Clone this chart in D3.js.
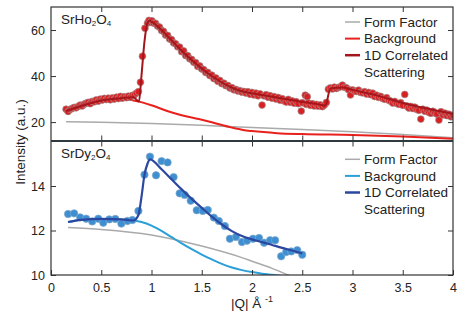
<!DOCTYPE html>
<html><head><meta charset="utf-8">
<script src="https://cdn.jsdelivr.net/npm/d3@7"></script>
<style>
body{margin:0;background:#fff;}
svg{display:block;font-family:"Liberation Sans",Arial,Helvetica,sans-serif;}
</style></head><body>
<svg id="c" width="463" height="317"></svg>
<script>
// ---------- DATA ----------
const xTicks = [0,0.5,1,1.5,2,2.5,3,3.5,4];
const hoTicks = [20,40,60];
const dyTicks = [10,12,14];
const legendLabels = ["Form Factor","Background","1D Correlated","Scattering"];

// SrHo2O4 measured points [Q, I]
const hoData = [
[0.15,25.6],[0.17,24.6],[0.19,25.5],[0.21,25.9],[0.23,26.4],[0.25,26.2],[0.27,26.8],[0.29,27.4],[0.31,27.0],[0.33,27.8],
[0.35,28.2],[0.37,28.6],[0.39,28.0],[0.41,29.0],[0.43,28.8],[0.45,29.6],[0.47,29.1],[0.49,30.0],[0.51,29.6],[0.53,30.3],
[0.55,29.8],[0.57,30.4],[0.59,29.7],[0.61,30.5],[0.63,30.0],[0.65,30.8],[0.67,30.2],[0.69,31.2],[0.71,30.4],[0.73,31.0],
[0.75,30.6],[0.77,31.3],[0.79,30.8],[0.81,31.6],[0.83,31.8],[0.85,32.6],[0.87,33.2],[0.89,37.3],[0.91,48.6],[0.935,60.8],
[0.96,63.0],[0.975,64.2],[0.99,63.4],[1.005,64.0],[1.02,63.0],[1.04,62.9],[1.06,61.7],[1.08,61.3],[1.10,59.8],[1.12,59.4],
[1.14,57.8],[1.16,57.7],[1.18,56.1],[1.20,55.8],[1.22,54.4],[1.24,54.0],[1.26,52.7],[1.28,52.6],[1.30,50.6],[1.32,50.9],
[1.34,48.9],[1.36,48.9],[1.38,47.5],[1.40,47.2],[1.42,46.0],[1.44,45.8],[1.46,44.2],[1.48,44.4],[1.50,43.1],[1.52,42.8],
[1.54,41.5],[1.56,41.6],[1.58,40.2],[1.60,40.4],[1.62,38.9],[1.64,39.2],[1.66,37.7],[1.68,38.1],[1.70,36.7],[1.72,36.9],
[1.74,35.8],[1.76,35.9],[1.78,34.8],[1.80,35.0],[1.82,34.0],[1.84,34.2],[1.86,33.5],[1.88,33.7],[1.90,33.0],[1.92,33.3],
[1.94,32.6],[1.96,33.2],[1.98,32.1],[2.00,32.9],[2.02,31.8],[2.04,32.6],[2.06,31.4],[2.08,32.3],[2.10,27.4],[2.12,31.4],
[2.14,31.9],[2.16,30.8],[2.18,31.5],[2.20,30.4],[2.22,31.1],[2.24,30.0],[2.26,30.7],[2.28,29.5],[2.30,30.2],[2.32,29.2],
[2.34,28.7],[2.36,29.9],[2.38,28.6],[2.40,29.2],[2.42,28.2],[2.44,28.9],[2.46,28.0],[2.49,24.8],[2.50,28.4],[2.53,31.7],
[2.55,31.0],[2.54,27.7],[2.56,28.3],[2.58,27.3],[2.60,28.0],[2.62,27.0],[2.64,27.7],[2.66,26.9],[2.68,27.5],[2.70,26.7],
[2.72,27.4],[2.74,28.5],[2.76,34.3],[2.78,34.9],[2.80,34.4],[2.82,35.2],[2.84,34.6],[2.86,35.1],[2.88,35.3],[2.90,36.1],
[2.92,35.1],[2.94,34.9],[2.96,34.1],[2.98,31.8],[3.00,34.0],[3.02,33.5],[3.04,33.3],[3.06,33.9],[3.08,32.9],[3.10,32.7],
[3.12,33.2],[3.14,32.2],[3.16,32.9],[3.18,31.9],[3.20,32.6],[3.22,31.1],[3.24,31.7],[3.26,30.7],[3.28,31.2],[3.30,30.3],
[3.32,29.9],[3.34,30.6],[3.36,29.5],[3.38,29.1],[3.40,28.3],[3.42,29.0],[3.44,28.1],[3.46,27.7],[3.48,28.4],[3.50,27.3],
[3.52,32.0],[3.54,27.0],[3.56,26.1],[3.58,26.8],[3.60,25.9],[3.62,26.5],[3.64,25.5],[3.66,25.1],[3.68,21.3],[3.70,25.6],
[3.72,24.7],[3.74,25.2],[3.76,24.2],[3.78,23.8],[3.80,24.7],[3.82,24.0],[3.84,23.5],[3.86,20.9],[3.88,24.5],[3.90,23.1],
[3.92,23.9],[3.94,22.8],[3.96,23.4],[3.98,22.3],[4.00,22.9]
];
const hoFit = [
[0.15,24.8],[0.3,27.0],[0.5,29.4],[0.7,30.4],[0.82,30.8],[0.875,28.9],[0.9,40.0],[0.93,55.0],[0.96,63.2],[0.98,64.0],
[1.0,63.6],[1.1,60.0],[1.2,55.5],[1.3,51.0],[1.4,47.0],[1.5,43.3],[1.6,40.0],[1.7,37.2],[1.8,35.0],[1.9,33.4],
[2.0,32.5],[2.1,31.8],[2.3,30.2],[2.5,28.8],[2.65,27.8],[2.73,27.2],[2.78,34.6],[2.9,35.0],[3.0,34.0],[3.25,31.5],
[3.5,28.3],[3.75,25.8],[4.0,23.6]
];
const hoBackground = [
[0.15,24.8],[0.3,27.0],[0.5,29.4],[0.7,30.4],[0.82,29.4],[0.875,28.9],[1.0,27.3],[1.18,24.5],[1.3,23.0],[1.47,21.3],
[1.6,19.9],[1.8,17.6],[1.91,16.6],[2.0,16.1],[2.25,15.2],[2.5,14.8],[3.0,14.4],[3.5,13.7],[4.0,12.8]
];
const hoFormFactor = [
[0.15,20.1],[0.5,19.9],[1.0,19.4],[1.5,18.6],[2.0,17.6],[2.5,16.8],[3.0,15.8],[3.5,14.6],[4.0,13.2]
];

// SrDy2O4 measured points [Q, I]
const dyData = [
[0.17,12.74],[0.23,12.77],[0.29,12.59],[0.35,12.53],[0.41,12.41],[0.47,12.53],[0.52,12.35],[0.58,12.50],[0.64,12.52],[0.70,12.31],
[0.76,12.43],[0.81,12.47],[0.87,12.88],[0.93,14.51],[0.985,15.32],[1.045,14.48],[1.10,15.12],[1.16,15.06],[1.22,14.40],[1.28,13.67],
[1.33,13.60],[1.39,13.34],[1.45,12.91],[1.51,12.88],[1.56,12.92],[1.62,12.58],[1.67,12.43],[1.73,12.20],[1.78,11.63],[1.84,11.71],
[1.90,11.48],[1.95,11.54],[2.01,11.63],[2.07,11.66],[2.12,11.45],[2.18,11.56],[2.23,11.56],[2.29,10.84],[2.34,11.03],[2.39,11.06],
[2.45,11.12],[2.50,10.91]
];
const dyFit = [
[0.17,12.38],[0.3,12.48],[0.5,12.52],[0.7,12.50],[0.82,12.45],[0.87,12.70],[0.9,13.5],[0.93,14.5],[0.96,15.0],[0.985,15.2],
[1.1,14.75],[1.2,14.3],[1.3,13.85],[1.4,13.42],[1.5,13.02],[1.6,12.62],[1.7,12.27],[1.8,11.97],[1.9,11.75],[2.0,11.6],
[2.1,11.48],[2.2,11.35],[2.3,11.22],[2.4,11.1],[2.5,10.97]
];
const dyBackground = [
[0.17,12.38],[0.3,12.48],[0.5,12.52],[0.7,12.50],[0.82,12.45],[0.9,12.38],[1.0,12.22],[1.1,11.98],[1.2,11.7],[1.3,11.42],
[1.4,11.16],[1.5,10.92],[1.6,10.7],[1.7,10.5],[1.8,10.34],[1.9,10.22],[2.0,10.13],[2.1,10.06],[2.2,10.01],[2.3,9.96]
];
const dyFormFactor = [
[0.17,12.14],[0.5,12.05],[1.0,11.8],[1.5,11.3],[1.9,10.78],[2.0,10.62],[2.2,10.3],[2.36,10.0],[2.5,9.75]
];

// ---------- CHART ----------
const svg = d3.select("#c");
const x = d3.scaleLinear().domain([0,4]).range([51,453]);
const yTop = d3.scaleLinear().domain([12,70]).range([140.5,7]);
const yBot = d3.scaleLinear().domain([10,16]).range([275,141.5]);
const font = "Liberation Sans, Arial, Helvetica, sans-serif";
const frame = "#333";

const defs = svg.append("defs");
defs.append("clipPath").attr("id","clipTop").append("rect")
  .attr("x",51).attr("y",7).attr("width",402).attr("height",133.5);
defs.append("clipPath").attr("id","clipBot").append("rect")
  .attr("x",51).attr("y",141.5).attr("width",402).attr("height",133.5);

function panel(y, ticks, top, bottom, labels){
  const g = svg.append("g");
  const left = g.append("g").attr("transform",`translate(${x.range()[0]},0)`)
    .call(d3.axisLeft(y).tickValues(ticks).tickSize(-5).tickPadding(6).tickFormat(d3.format("~g")));
  const right = g.append("g").attr("transform",`translate(${x.range()[1]},0)`)
    .call(d3.axisRight(y).tickValues(ticks).tickSize(-5).tickFormat(""));
  const tp = g.append("g").attr("transform",`translate(0,${top})`)
    .call(d3.axisTop(x).tickValues(xTicks.slice(1,-1)).tickSize(-5).tickFormat(""));
  const bt = g.append("g").attr("transform",`translate(0,${bottom})`)
    .call(d3.axisBottom(x).tickValues(labels ? xTicks : xTicks.slice(1,-1)).tickSize(-5).tickPadding(8)
      .tickFormat(labels ? d3.format("~g") : ""));
  [left,right,tp,bt].forEach(a=>{
    a.select(".domain").remove();
    a.selectAll(".tick line").attr("stroke",frame).attr("stroke-width",1);
    a.selectAll(".tick text").attr("font-family",font).attr("font-size",12.5).attr("fill","#222");
  });
  return g;
}

const line = (y) => d3.line().x(d=>x(d[0])).y(d=>y(d[1])).curve(d3.curveMonotoneX);

// ----- Top panel: SrHo2O4 -----
const gT = svg.append("g").attr("clip-path","url(#clipTop)");
gT.append("path").datum(hoFormFactor).attr("d",line(yTop)).attr("fill","none").attr("stroke","#aaaaaa").attr("stroke-width",1.5);
gT.append("path").datum(hoBackground).attr("d",line(yTop)).attr("fill","none").attr("stroke","#e8211d").attr("stroke-width",2);
gT.selectAll("circle").data(hoData).join("circle")
  .attr("cx",d=>x(d[0])).attr("cy",d=>yTop(d[1])).attr("r",3.4)
  .attr("fill","#d91f22").attr("stroke","#a08f8f").attr("stroke-width",0.7);
gT.append("path").datum(hoFit).attr("d",line(yTop)).attr("fill","none").attr("stroke","#a3161c").attr("stroke-width",2);

// ----- Bottom panel: SrDy2O4 -----
const gB = svg.append("g").attr("clip-path","url(#clipBot)");
gB.append("path").datum(dyFormFactor).attr("d",line(yBot)).attr("fill","none").attr("stroke","#aaaaaa").attr("stroke-width",1.5);
gB.append("path").datum(dyBackground).attr("d",line(yBot)).attr("fill","none").attr("stroke","#2a9fd8").attr("stroke-width",2);
gB.selectAll("circle").data(dyData).join("circle")
  .attr("cx",d=>x(d[0])).attr("cy",d=>yBot(d[1])).attr("r",3.7)
  .attr("fill","#3d8fd2").attr("stroke","#7fa8cc").attr("stroke-width",0.7);
gB.append("path").datum(dyFit).attr("d",line(yBot)).attr("fill","none").attr("stroke","#2b47a0").attr("stroke-width",2.2);

// axes & frames
panel(yTop, hoTicks, 7, 140.5, false);
panel(yBot, dyTicks, 141.5, 275, true);
svg.append("rect").attr("x",51).attr("y",7).attr("width",402).attr("height",268)
  .attr("fill","none").attr("stroke",frame).attr("stroke-width",1.2);
svg.append("line").attr("x1",51).attr("x2",453).attr("y1",141).attr("y2",141)
  .attr("stroke","#2e3a3d").attr("stroke-width",2.2);

// panel labels
function formula(tx, ty, parts){
  const t = svg.append("text").attr("x",tx).attr("y",ty).attr("font-family",font).attr("font-size",13.5).attr("fill","#222");
  parts.forEach(p=>{
    t.append("tspan").text(p[0]).attr("font-size",p[1]?8:13.5).attr("dy",p[1]?1.5:(p[2]||0));
  });
}
formula(61, 24, [["SrHo",false],["2",true],["O",false,-1.5],["4",true]]);
formula(61, 158, [["SrDy",false],["2",true],["O",false,-1.5],["4",true]]);

// legends
function legend(y0, colors, widths){
  [0,1,2].forEach(i=>{
    svg.append("line").attr("x1",345).attr("x2",360).attr("y1",y0+i*16.6).attr("y2",y0+i*16.6)
      .attr("stroke",colors[i]).attr("stroke-width",widths[i]);
  });
  legendLabels.forEach((t,i)=>{
    svg.append("text").attr("x",364).attr("y",y0+i*16.6).attr("dy","0.35em")
      .attr("font-family",font).attr("font-size",13.5).attr("fill","#222").text(t);
  });
}
legend(22, ["#aaaaaa","#e8211d","#a3161c"], [1.5,2,2.5]);
legend(159.3, ["#aaaaaa","#2a9fd8","#2b47a0"], [1.5,2,2.5]);

// axis titles
svg.append("text").attr("transform","translate(20,142) rotate(-90)").attr("text-anchor","middle")
  .attr("dy","0.35em").attr("font-family",font).attr("font-size",13.5).attr("fill","#222").text("Intensity (a.u.)");
const xt = svg.append("text").attr("x",252).attr("y",308).attr("text-anchor","middle")
  .attr("font-family",font).attr("font-size",13.5).attr("fill","#222");
xt.append("tspan").text("|Q| Å ");
xt.append("tspan").text("-1").attr("font-size",9).attr("dy",-6);
</script>
</body></html>
